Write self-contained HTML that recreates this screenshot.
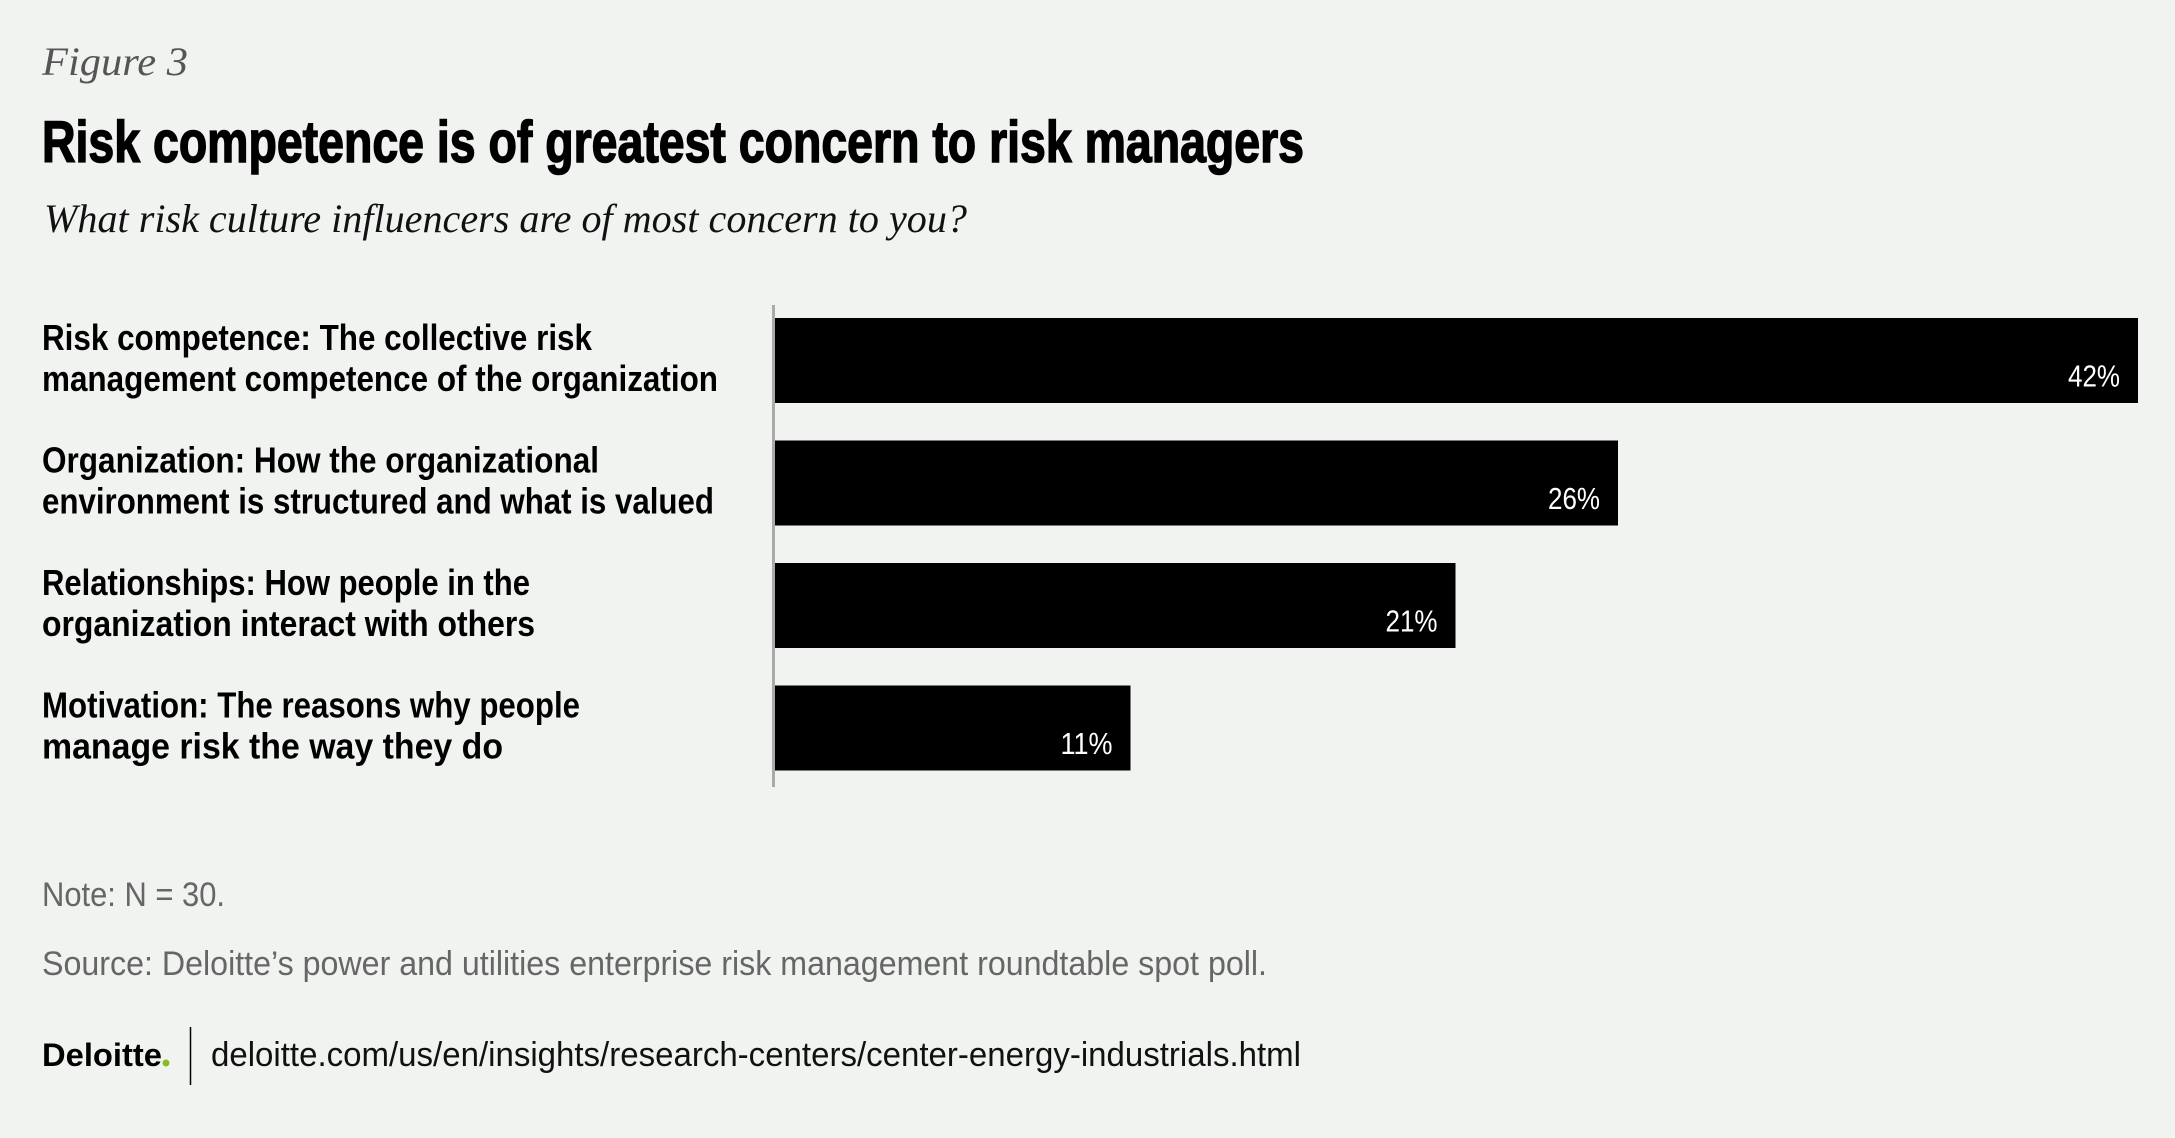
<!DOCTYPE html>
<html><head><meta charset="utf-8"><style>
html,body{margin:0;padding:0;background:#f1f3f1;}
svg{display:block}
</style></head><body>
<svg id="chart" width="2175" height="1138" viewBox="0 0 2175 1138" xmlns="http://www.w3.org/2000/svg">
<rect width="2175" height="1138" fill="#f1f3f1"/>
<text x="42" y="75" font-family="Liberation Serif, serif" font-style="italic" font-size="40" fill="#555" textLength="146" lengthAdjust="spacingAndGlyphs">Figure 3</text>
<text x="42" y="162" font-family="Liberation Sans, sans-serif" font-weight="bold" font-size="58" fill="#000" stroke="#000" stroke-width="1.5" textLength="1262" lengthAdjust="spacingAndGlyphs">Risk competence is of greatest concern to risk managers</text>
<text x="44" y="232" font-family="Liberation Serif, serif" font-style="italic" font-size="40" fill="#111" textLength="923" lengthAdjust="spacingAndGlyphs">What risk culture influencers are of most concern to you?</text>
<g id="bars"></g>
<line x1="773.5" y1="305" x2="773.5" y2="787" stroke="#aaa" stroke-width="3"/>
<text x="42" y="906" font-family="Liberation Sans, sans-serif" font-size="34" fill="#666" textLength="183" lengthAdjust="spacingAndGlyphs">Note: N = 30.</text>
<text x="42" y="975" font-family="Liberation Sans, sans-serif" font-size="34" fill="#666" textLength="1225" lengthAdjust="spacingAndGlyphs">Source: Deloitte’s power and utilities enterprise risk management roundtable spot poll.</text>
<text x="42" y="1066" font-family="Liberation Sans, sans-serif" font-weight="bold" font-size="32" fill="#000" textLength="120" lengthAdjust="spacingAndGlyphs">Deloitte</text>
<circle cx="166" cy="1063" r="3.5" fill="#86bc25"/>
<line x1="190.5" y1="1027" x2="190.5" y2="1085" stroke="#000" stroke-width="1.5"/>
<text x="211" y="1066" font-family="Liberation Sans, sans-serif" font-size="34" fill="#111" textLength="1090" lengthAdjust="spacingAndGlyphs">deloitte.com/us/en/insights/research-centers/center-energy-industrials.html</text>
</svg>
<script>
const categories1 = ["Risk competence: The collective risk","Organization: How the organizational","Relationships: How people in the","Motivation: The reasons why people"];
const categories2 = ["management competence of the organization","environment is structured and what is valued","organization interact with others","manage risk the way they do"];
const labelWidths1 = [550,557,488,538];
const labelWidths2 = [676,672,493,461];
const values = [42,26,21,11];
const valueLabels = ["42%","26%","21%","11%"];
const NS = "http://www.w3.org/2000/svg";
const x0 = 773, pxPerPct = 32.5;
function xScale(v){ return x0 + v * pxPerPct; }
function yBand(i){ return 318 + i * 122.5; }
const bandH = 85;
const g = document.getElementById('bars');
values.forEach((v,i)=>{
  const y = yBand(i);
  const r = document.createElementNS(NS,'rect');
  r.setAttribute('x', x0); r.setAttribute('y', y);
  r.setAttribute('width', xScale(v)-x0); r.setAttribute('height', bandH);
  r.setAttribute('fill','#000');
  
  
  g.appendChild(r);
  const t = document.createElementNS(NS,'text');
  t.setAttribute('x', xScale(v)-18); t.setAttribute('y', y+bandH/2+26);
  t.setAttribute('text-anchor','end'); t.setAttribute('fill','#fff');
  t.setAttribute('font-family','Liberation Sans, sans-serif'); t.setAttribute('font-size','31');
  t.setAttribute('textLength','52'); t.setAttribute('lengthAdjust','spacingAndGlyphs');
  t.textContent = valueLabels[i];
  
  
  g.appendChild(t);
  [[categories1[i],labelWidths1[i],y+32],[categories2[i],labelWidths2[i],y+73]].forEach(([s,w,yy])=>{
    const l = document.createElementNS(NS,'text');
    l.setAttribute('x', 42); l.setAttribute('y', yy);
    l.setAttribute('font-family','Liberation Sans, sans-serif'); l.setAttribute('font-weight','bold');
    l.setAttribute('font-size','36'); l.setAttribute('fill','#000');
    l.setAttribute('textLength', w); l.setAttribute('lengthAdjust','spacingAndGlyphs');
    l.textContent = s;
    
    
    g.appendChild(l);
  });
});
</script>
</body></html>
